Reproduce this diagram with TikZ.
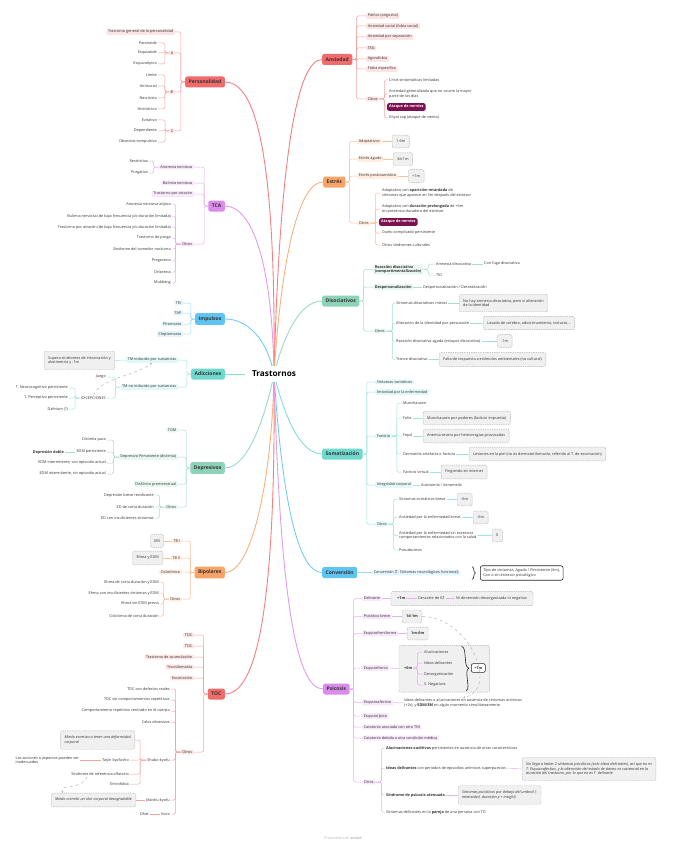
\documentclass[tikz,border=0pt]{standalone}
\usepackage{fontspec}
\setmainfont{Open Sans}
\usetikzlibrary{arrows.meta,calc,fit,backgrounds,decorations.pathreplacing}
\definecolor{rojo}{HTML}{F26B6B}
\definecolor{rojoL}{HTML}{F4A3A3}
\definecolor{rojoF}{HTML}{FDE4E4}
\definecolor{naranja}{HTML}{F9A466}
\definecolor{naranjaL}{HTML}{F8C29C}
\definecolor{naranjaF}{HTML}{FEEDE0}
\definecolor{verde}{HTML}{8DD3B8}
\definecolor{verdeL}{HTML}{A9DEC9}
\definecolor{verdeF}{HTML}{E8F7F0}
\definecolor{turq}{HTML}{6FD9CE}
\definecolor{turqL}{HTML}{9FE5DE}
\definecolor{turqF}{HTML}{E2F8F6}
\definecolor{azul}{HTML}{5EC4F2}
\definecolor{azulL}{HTML}{9AD8F5}
\definecolor{azulF}{HTML}{E3F4FC}
\definecolor{violeta}{HTML}{DA8BEB}
\definecolor{violetaL}{HTML}{E6B0F1}
\definecolor{violetaF}{HTML}{F8E6FB}
\definecolor{nervios}{HTML}{7B1150}
\definecolor{tinta}{HTML}{333333}
\pgfdeclarelayer{fondo}
\pgfsetlayers{fondo,background,main}

\begin{document}
\begin{tikzpicture}[x=1pt, y=-1pt,
    txt/.style={font=\fontsize{3.8}{4.6}\selectfont, text=tinta, inner sep=1pt, align=left},
    sub/.style={txt, fill=#1, rounded corners=1pt, inner xsep=1.6pt},
    tema/.style={fill=#1, rounded corners=2pt, text=tinta, font=\fontsize{5}{6}\selectfont\bfseries, minimum height=11pt, inner xsep=3.5pt},
    nota/.style={txt, draw=gray!60, fill=gray!12, dash pattern=on 1.4pt off 0.9pt, rounded corners=2pt, inner xsep=4pt, inner ysep=5pt},
    notait/.style={nota, font=\fontsize{3.8}{4.6}\selectfont\itshape},
    marco/.style={txt, draw=black!85, fill=white, line width=0.6pt, rounded corners=2pt, inner xsep=3pt, inner ysep=3pt},
    alerta/.style={txt, fill=nervios, text=white, font=\fontsize{3.8}{4.6}\selectfont\bfseries, rounded corners=1.5pt, inner xsep=2pt, inner ysep=2pt},
    rama/.style={draw=#1, line width=0.5pt, rounded corners=1.5pt},
    tronco/.style={draw=#1, line width=0.9pt},
    rel/.style={draw=gray!60, dashed, line width=0.45pt, -{Stealth[length=2.2pt, width=2pt]}},
    llave/.style={draw=black!85, line width=0.6pt, decorate, decoration={brace, amplitude=#1}},
]
\begin{pgfonlayer}{fondo}
  \fill[white] (0,0) rectangle (688,848);
\end{pgfonlayer}
\useasboundingbox (0,0) rectangle (688,848);

% temas principales
\node[tema=rojo, anchor=east] (per) at (225,82) {Personalidad};
\node[tema=violeta, anchor=east] (tca) at (225,206) {TCA};
\node[tema=azul, anchor=east] (imp) at (225,319) {Impulsos};
\node[tema=turq, anchor=east] (adi) at (225,374) {Adicciones};
\node[tema=verde, anchor=east] (dep) at (225,468) {Depresivos};
\node[tema=naranja, anchor=east] (bip) at (225,572.5) {Bipolares};
\node[tema=rojo, anchor=east] (toc) at (225,694) {TOC};
\node[tema=rojo, anchor=west] (ans) at (322,59.5) {Ansiedad};
\node[tema=naranja, anchor=west] (est) at (323,182) {Estrés};
\node[tema=verde, anchor=west] (dso) at (322,301) {Disociativos};
\node[tema=turq, anchor=west] (som) at (322,454) {Somatización};
\node[tema=azul, anchor=west] (cnv) at (322,572.5) {Conversión};
\node[tema=violeta, anchor=west] (psi) at (323,689) {Psicosis};

% tronco
\coordinate (centro) at (274,374);
\draw[tronco=rojo!85] (centro) .. controls (276,150) and (255,82) .. (per.east);
\draw[tronco=violeta!85] (centro) .. controls (272,255) and (250,206) .. (tca.east);
\draw[tronco=azul!85] (centro) .. controls (266,335) and (245,319) .. (imp.east);
\draw[tronco=turq!85] (centro) -- (adi.east);
\draw[tronco=verde!85] (centro) .. controls (266,415) and (248,468) .. (dep.east);
\draw[tronco=naranja!85] (centro) .. controls (272,480) and (252,572.5) .. (bip.east);
\draw[tronco=rojo!85] (centro) .. controls (276,600) and (258,694) .. (toc.east);
\draw[tronco=rojo!85] (centro) .. controls (280,150) and (298,59.5) .. (ans.west);
\draw[tronco=naranja!85] (centro) .. controls (282,250) and (300,182) .. (est.west);
\draw[tronco=verde!85] (centro) .. controls (284,335) and (300,301) .. (dso.west);
\draw[tronco=turq!85] (centro) .. controls (284,415) and (300,454) .. (som.west);
\draw[tronco=azul!85] (centro) .. controls (282,500) and (298,572.5) .. (cnv.west);
\draw[tronco=violeta!85] (centro) .. controls (280,590) and (295,689) .. (psi.west);
\node[font=\fontsize{8.2}{9}\selectfont\bfseries, fill=white, inner xsep=7pt, inner ysep=5pt] (tit) at (centro) {Trastornos};

% Personalidad
\foreach \nm/\yy/\lab in {tgp/32/Trastorno general de la personalidad, cA/53/A, cB/92/B, cC/131/C} {
  \node[sub=rojoF, anchor=east] (\nm) at (175,\yy) {\lab};
  \draw[rama=rojoL] (per.west) -- ++(-4,0) |- (\nm.east);
}
\foreach \pa/\nm/\yy/\lab in {cA/par/43/Paranoide, cA/esq/53/Esquizoide, cA/etp/64/Esquizotípico,
    cB/lim/75/Límite, cB/ant/86/Antisocial, cB/nar/98/Narcisista, cB/his/109/Histriónico,
    cC/evi/120/Evitativo, cC/dpd/131/Dependiente, cC/obs/142/Obsesivo-compulsivo} {
  \node[txt, anchor=east] (\nm) at (158,\yy) {\lab};
  \draw[rama=rojoL] (\pa.west) -- ++(-4,0) |- (\nm.east);
}

% TCA
\foreach \nm/\yy/\lab in {ano/167/Anorexia nerviosa, bul/183/Bulimia nerviosa, atr/194/Trastorno por atracón, otca/244/Otros} {
  \node[sub=violetaF, anchor=east] (\nm) at (194,\yy) {\lab};
  \draw[rama=violetaL] (tca.west) -- ++(-4,0) |- (\nm.east);
}
\foreach \nm/\yy/\lab in {res/161/Restrictiva, pur/173/Purgativa} {
  \node[txt, anchor=east] (\nm) at (149,\yy) {\lab};
  \draw[rama=violetaL] (ano.west) -- ++(-5,0) |- (\nm.east);
}
\foreach \nm/\yy/\lab in {ana/204/Anorexia nerviosa atípica,
    bbf/216/{Bulimia nerviosa (de baja frecuencia y/o duración limitada)},
    abf/227/{Trastorno por atracón (de baja frecuencia y/o duración limitada)},
    tpu/238/Trastorno de purga, snc/249/Síndrome del comedor nocturno,
    pre/261/Pregorexia, ort/272/Ortorexia, muk/283/Mukbang} {
  \node[txt, anchor=east] (\nm) at (172,\yy) {\lab};
  \draw[rama=violetaL] (otca.west) -- ++(-5,0) |- (\nm.east);
}

% Impulsos
\foreach \nm/\yy/\lab in {tei/303/TEI, tap/313/TAP, pir/324/Piromanía, cle/334/Cleptomanía} {
  \node[sub=azulF, anchor=east] (\nm) at (183,\yy) {\lab};
  \draw[rama=azulL] (imp.west) -- ++(-4,0) |- (\nm.east);
}

% Adicciones
\foreach \nm/\yy/\lab in {tmi/360/TM inducido por sustancias, tmn/387/TM no inducido por sustancias} {
  \node[sub=turqF, anchor=east] (\nm) at (178,\yy) {\lab};
  \draw[rama=turqL] (adi.west) -- ++(-4,0) |- (\nm.east);
}
\node[nota, anchor=east] (sup) at (115,360.5) {Supera síndromes de intoxicación y\\abstinencia y -1m};
\draw[rama=turqL] (tmi.west) -- (sup.east);
\foreach \nm/\yy/\lab in {jue/377/Juego, exc/398/EXCEPCIONES} {
  \node[txt, anchor=east] (\nm) at (107,\yy) {\lab};
  \draw[rama=turqL] (tmn.west) -- ++(-5,0) |- (\nm.east);
}
\foreach \nm/\yy/\lab in {neu/388/T. Neurocognitivo persistente, tpe/398/T. Perceptivo persistente, dlr/409/Delirium (?)} {
  \node[txt, anchor=east] (\nm) at (69,\yy) {\lab};
  \draw[rama=turqL] (exc.west) -- ++(-5,0) |- (\nm.east);
}
\draw[rel] (exc.north) .. controls (100,378) and (135,376) .. (tmi.south);

% Depresivos
\foreach \nm/\yy/\lab in {tdm/430/TDM, dpp/457/Depresivo Persistente (distimia), dpm/484/Disfórico premenstrual, odep/507/Otros} {
  \node[sub=verdeF, anchor=east] (\nm) at (178,\yy) {\lab};
  \draw[rama=verdeL] (dep.west) -- ++(-4,0) |- (\nm.east);
}
\foreach \nm/\yy/\lab in {dpu/440/Distimia pura, edp/452/EDM persistente,
    eic/463/{EDM intermitente, con episodio actual}, eis/474/{EDM intermitente, sin episodio actual}} {
  \node[txt, anchor=east] (\nm) at (107,\yy) {\lab};
  \draw[rama=verdeL] (dpp.west) -- ++(-5,0) |- (\nm.east);
}
\node[txt, font=\fontsize{3.8}{4.6}\selectfont\bfseries, anchor=east] (ddo) at (65,452) {Depresión doble};
\draw[rama=verdeL] (edp.west) -- (ddo.east);
\foreach \nm/\yy/\lab in {dbr/495/Depresión breve recidivante, ecd/507/ED de corta duración, eci/518/ED con insuficientes síntomas} {
  \node[txt, anchor=east] (\nm) at (155,\yy) {\lab};
  \draw[rama=verdeL] (odep.west) -- ++(-5,0) |- (\nm.east);
}

% Bipolares
\foreach \nm/\yy/\lab in {tb1/541/TB I, tb2/558/TB II, cic/572/Ciclotímico, obip/599/Otros} {
  \node[sub=naranjaF, anchor=east] (\nm) at (182,\yy) {\lab};
  \draw[rama=naranjaL] (bip.west) -- ++(-4,0) |- (\nm.east);
}
\node[nota, anchor=east] (bem) at (164,541) {EM};
\node[nota, anchor=east] (bey) at (163,558) {Ehma y EDM};
\draw[rama=naranjaL] (tb1.west) -- (bem.east);
\draw[rama=naranjaL] (tb2.west) -- (bey.east);
\foreach \nm/\yy/\lab in {hcd/582/Ehma de corta duración y EDM, hci/593/Ehma con insuficientes síntomas y EDM,
    hsp/604/Ehma sin EDM previo, ccd/616/Ciclotimia de corta duración} {
  \node[txt, anchor=east] (\nm) at (160,\yy) {\lab};
  \draw[rama=naranjaL] (obip.west) -- ++(-5,0) |- (\nm.east);
}

% TOC
\foreach \nm/\yy/\lab in {toc1/635/TOC, tdc/646/TDC, acu/657/Trastorno de acumulación, tri/667/Tricotilomanía, exco/678/Excoriación, otoc/752/Otros} {
  \node[sub=rojoF, anchor=east] (\nm) at (194,\yy) {\lab};
  \draw[rama=rojoL] (toc.west) -- ++(-4,0) |- (\nm.east);
}
\foreach \nm/\yy/\lab in {tdr/689/TDC con defectos reales, tds/700/TDC sin comportamientos repetitivos,
    crc/711/Comportamiento repetitivo centrado en el cuerpo, cel/722/Celos obsesivos,
    shu/760/Shubo-kyofu, jik/800/Jikoshu-kyofu, kor/814/Koro} {
  \node[txt, anchor=east] (\nm) at (171,\yy) {\lab};
  \draw[rama=rojoL] (otoc.west) -- ++(-5,0) |- (\nm.east);
}
\node[notait, anchor=east] (mex) at (135,740) {Miedo excesivo a tener una deformidad\\corporal};
\draw[rama=rojoL] (shu.west) -- ++(-6,0) |- (mex.east);
\foreach \nm/\yy/\lab in {tai/760/Taijin kyofusho, sro/774/Síndrome de referencia olfatorio, eri/784/Eritrofobia} {
  \node[txt, anchor=east] (\nm) at (130,\yy) {\lab};
  \draw[rama=rojoL] (shu.west) -- ++(-6,0) |- (\nm.east);
}
\node[txt, anchor=east] (acc) at (80,760) {Las acciones o aspectos pueden ser\\inadecuados};
\draw[rama=rojoL] (tai.west) -- (acc.east);
\node[notait, anchor=east] (mol) at (136,800) {Miedo a emitir un olor corporal desagradable};
\draw[rama=rojoL] (jik.west) -- (mol.east);
\node[txt, anchor=east] (dha) at (150,814) {Dhat};
\draw[rama=rojoL] (kor.west) -- (dha.east);
\draw[rel] ([xshift=17pt]sro.south west) .. controls (80,792) and (62,782) .. ([xshift=-31pt]mol.north);

% Ansiedad
\foreach \nm/\yy/\lab in {pan/16/Pánico (angustia), aso/26/Ansiedad social (fobia social), ase/37/Ansiedad por separación,
    tag/48/TAG, ago/59/Agorafobia, fes/69/Fobia específica, oans/99/Otros} {
  \node[sub=rojoF, anchor=west] (\nm) at (366,\yy) {\lab};
  \draw[rama=rojoL] (ans.east) -- ++(4,0) |- (\nm.west);
}
\foreach \nm/\yy/\lab in {csl/80/Crisis sintomáticas limitadas,
    agn/94/{Ansiedad generalizada que no ocurre la mayor\\parte de los días},
    khy/118/Khyal cap (ataque de viento)} {
  \node[txt, anchor=west] (\nm) at (388,\yy) {\lab};
  \draw[rama=rojoL] (oans.east) -- ++(5,0) |- (\nm.west);
}
\node[alerta, anchor=west] (atq1) at (387,107) {Ataque de nervios};
\draw[rama=rojoL] (oans.east) -- ++(5,0) |- (atq1.west);

% Estrés
\foreach \nm/\yy/\lab in {ada/141.5/Adaptativos, agu/159/Estrés agudo, pos/176/Estrés postraumático, oest/223/Otros} {
  \node[sub=naranjaF, anchor=west] (\nm) at (357,\yy) {\lab};
  \draw[rama=naranjaL] (est.east) -- ++(4,0) |- (\nm.west);
}
\node[nota, anchor=west] (b16) at (392,141.5) {1-6m};
\node[nota, anchor=west] (b3d) at (393,159) {3d-1m};
\node[nota, anchor=west] (b1m) at (408,176) {+1m};
\draw[rama=naranjaL] (ada.east) -- (b16.west);
\draw[rama=naranjaL] (agu.east) -- (b3d.west);
\draw[rama=naranjaL] (pos.east) -- (b1m.west);
\foreach \nm/\yy/\lab in {ret/193/{Adaptativo con \textbf{aparición retardada} de\\síntomas que aparece en 3m después del estresor},
    pro/209/{Adaptativo con \textbf{duración prolongada} de +6m\\en presencia duradera del estresor},
    dcp/233/Duelo complicado persistente, osc/245/Otros síndromes culturales} {
  \node[txt, anchor=west] (\nm) at (381,\yy) {\lab};
  \draw[rama=naranjaL] (oest.east) -- ++(5,0) |- (\nm.west);
}
\node[alerta, anchor=west] (atq2) at (379,222) {Ataque de nervios};
\draw[rama=naranjaL] (oest.east) -- ++(5,0) |- (atq2.west);

% Disociativos
\node[sub=verdeF, anchor=west, font=\fontsize{3.8}{4.6}\selectfont\bfseries] (rdi) at (373,269.5) {Reacción disociativa\\(compartimentalización)};
\node[sub=verdeF, anchor=west, font=\fontsize{3.8}{4.6}\selectfont\bfseries] (dsp) at (373,287) {Despersonalización};
\node[sub=verdeF, anchor=west] (odis) at (373,331) {Otros};
\foreach \nm in {rdi,dsp,odis} {
  \draw[rama=verdeL] (dso.east) -- ++(4,0) |- (\nm.west);
}
\foreach \nm/\yy/\lab in {amn/264/Amnesia disociativa, tid/275/TID} {
  \node[txt, anchor=west] (\nm) at (435,\yy) {\lab};
  \draw[rama=verdeL] (rdi.east) -- ++(5,0) |- (\nm.west);
}
\node[txt, anchor=west] (fug) at (483,264) {Con fuga disociativa};
\draw[rama=verdeL] (amn.east) -- (fug.west);
\node[txt, anchor=west] (dsr) at (422,287) {Despersonalización / Desrealización};
\draw[rama=verdeL] (dsp.east) -- (dsr.west);
\foreach \nm/\yy/\lab in {mix/303/Síntomas disociativos mixtos, pers/323/Alteración de la identidad por persuasión,
    agd/341/Reacción disociativa aguda (estupor disociativo), tra/359.5/Trance disociativo} {
  \node[txt, anchor=west] (\nm) at (395,\yy) {\lab};
  \draw[rama=verdeL] (odis.east) -- ++(6,0) |- (\nm.west);
}
\node[nota, anchor=west] (bmix) at (459,303) {No hay amnesia disociativa, pero si alteración\\de la identidad};
\node[nota, anchor=west] (bpers) at (483,323) {Lavado de cerebro, adoctrinamiento, torturas...};
\node[nota, anchor=west] (bagd) at (497,341) {-1m};
\node[nota, anchor=west] (btra) at (439,359.5) {Falta de respuesta a estímulos ambientales (no cultural)};
\foreach \a/\b in {mix/bmix, pers/bpers, agd/bagd, tra/btra} {
  \draw[rama=verdeL] (\a.east) -- (\b.west);
}

% Somatizacion
\foreach \nm/\yy/\lab in {sso/382/Síntomas somáticos, aen/392/Ansiedad por la enfermedad, fac/436/Facticio,
    inc/485/Integridad corporal, osom/524/Otros} {
  \node[sub=turqF, anchor=west] (\nm) at (375,\yy) {\lab};
  \draw[rama=turqL] (som.east) -- ++(4,0) |- (\nm.west);
}
\foreach \nm/\yy/\lab in {mun/403/Munchausen, fol/418/Folie, fep/436/Fepd, der/454/Dermatitis artefacta o facticia, fvi/472/Facticio virtual} {
  \node[txt, anchor=west] (\nm) at (402,\yy) {\lab};
  \draw[rama=turqL] (fac.east) -- ++(5,0) |- (\nm.west);
}
\node[nota, anchor=west] (bfol) at (423,418) {Munchausen por poderes (facticio impuesto)};
\node[nota, anchor=west] (bfep) at (423,436) {Anemia severa por hemorragias provocadas};
\node[nota, anchor=west] (bder) at (469,454) {Lesiones en la piel (no es dermatotilomanía, referido al T. de excoriación)};
\node[nota, anchor=west] (bfvi) at (441,472) {Fingiendo en internet};
\foreach \a/\b in {fol/bfol, fep/bfep, der/bder, fvi/bfvi} {
  \draw[rama=turqL] (\a.east) -- (\b.west);
}
\node[txt, anchor=west] (aut) at (420,485) {Autotomía / Xenomelia};
\draw[rama=turqL] (inc.east) -- (aut.west);
\foreach \nm/\yy/\lab in {ssb/499.5/Síntomas somáticos breve, aeb/517.5/Ansiedad por la enfermedad breve,
    aes/535.5/{Ansiedad por la enfermedad sin excesivos\\comportamientos relacionados con la salud}, pse/550/Pseudociesis} {
  \node[txt, anchor=west] (\nm) at (398,\yy) {\lab};
  \draw[rama=turqL] (osom.east) -- ++(5,0) |- (\nm.west);
}
\node[nota, anchor=west] (bssb) at (457,499.5) {-6m};
\node[nota, anchor=west] (baeb) at (473,517.5) {-6m};
\node[nota, anchor=west] (baes) at (492,535.5) {0};
\foreach \a/\b in {ssb/bssb, aeb/baeb, aes/baes} {
  \draw[rama=turqL] (\a.east) -- (\b.west);
}

% Conversion
\node[sub=azulF, anchor=west] (cvt) at (372,572.5) {Conversión (T. Síntomas neurológicos funcional)};
\draw[rama=azulL] (cnv.east) -- (cvt.west);
\node[marco, anchor=west] (tip) at (480,573) {Tipo de síntomas, Agudo / Persistente (6m),\\Con o sin estresor psicológico};
\draw[llave=3.5pt] ($(tip.north west)+(-8,1)$) -- ($(tip.south west)+(-8,-1)$);

% Psicosis
\foreach \nm/\yy/\lab in {del/598.5/Delirante, pbr/616.5/Psicótico breve, efo/633.5/Esquizofreniforme, ezf/668/Esquizofrenia,
    eaf/702.5/Esquizoafectivo, etip/716/Esquizotípico, ca1/727/Catatonía asociada con otro TM,
    ca2/738/Catatonía debida a otra condición médica, opsi/782/Otros} {
  \node[sub=violetaF, anchor=west] (\nm) at (362,\yy) {\lab};
  \draw[rama=violetaL] (psi.east) -- ++(4,0) |- (\nm.west);
}
\node[txt, anchor=west, font=\fontsize{3.8}{4.6}\selectfont\bfseries] (d1m) at (396,598.5) {+1m};
\node[txt, anchor=west] (dez) at (417,598.5) {Descarte de EZ};
\node[txt, anchor=west] (dni) at (455,598.5) {Ni dimensión desorganizada ni negativa};
\node[nota, anchor=west] (bpb) at (402,616.5) {\textbf{1d-1m}};
\node[nota, anchor=west] (befo) at (407,633.5) {\textbf{1m-6m}};
\node[txt, anchor=west, font=\fontsize{3.8}{4.6}\selectfont\bfseries] (e6m) at (403,668) {+6m};
\foreach \nm/\yy/\lab in {alu/652/Alucinaciones, ide/663/Ideas delirantes, deso/674/Desorganización, sne/685/S. Negativos} {
  \node[txt, anchor=west] (\nm) at (423,\yy) {\lab};
  \draw[rama=violetaL] (e6m.east) -- ++(4,0) |- (\nm.west);
}
\node[marco, anchor=west, font=\fontsize{3.8}{4.6}\selectfont\bfseries] (b1m2) at (471,668) {+1m};
\begin{pgfonlayer}{background}
  \node[nota, fit=(d1m)(dni), inner xsep=5pt, inner ysep=4pt] (bdel) {};
  \node[nota, fit=(e6m)(alu)(sne)(b1m2), inner sep=4pt] (bezf) {};
\end{pgfonlayer}
\draw[llave=5pt] ($(alu.north east)+(12,-3)$) -- ($(sne.south east)+(19,3)$);
\draw[rama=violetaL] (del.east) -- (bdel.west);
\draw[rama=violetaL] (d1m.east) -- (dez.west);
\draw[rama=violetaL] (dez.east) -- (dni.west);
\draw[rama=violetaL] (pbr.east) -- (bpb.west);
\draw[rama=violetaL] (efo.east) -- (befo.west);
\draw[rama=violetaL] (ezf.east) -- (bezf.west);
\node[txt, anchor=west] (eafd) at (403,703) {Ideas delirantes o alucinaciones en ausencia de síntomas anímicos\\(+2s), y \textbf{EDM/EM} en algún momento simultáneamente};
\draw[rama=violetaL] (eaf.east) -- (eafd.west);
\draw[rel] (bpb.east) .. controls (470,617) and (500,690) .. (eafd.north);
\foreach \nm/\yy/\lab in {aua/748/{\textbf{Alucinaciones auditivas} persistentes en ausencia de otras características},
    idd/768/{\textbf{Ideas delirantes} con periodos de episodios anímicos superpuestos},
    spa/795/{\textbf{Síndrome de psicosis atenuada}},
    sdp/812/{Síntomas delirantes en la \textbf{pareja} de una persona con TD}} {
  \node[txt, anchor=west] (\nm) at (385,\yy) {\lab};
  \draw[rama=violetaL] (opsi.east) -- ++(6,0) |- (\nm.west);
}
\node[notait, anchor=west] (bidd) at (522,769) {No llega a haber 2 síntomas psicóticos (solo ideas delirantes), así que no es\\T. Esquizoafectivo, y la alteración del estado de ánimo es sustancial en la\\duración del trastorno, por lo que no es T. delirante};
\node[notait, anchor=west] (bspa) at (458,795) {Síntomas psicóticos por debajo del umbral (-\\intensidad, duración y + insight)};
\draw[rama=violetaL] (idd.east) -- (bidd.west);
\draw[rama=violetaL] (spa.east) -- (bspa.west);

\node[font=\fontsize{3.6}{4}\selectfont, text=gray!55] (pie) at (343,838) {Presented with \textbf{xmind}};
\end{tikzpicture}
\end{document}
